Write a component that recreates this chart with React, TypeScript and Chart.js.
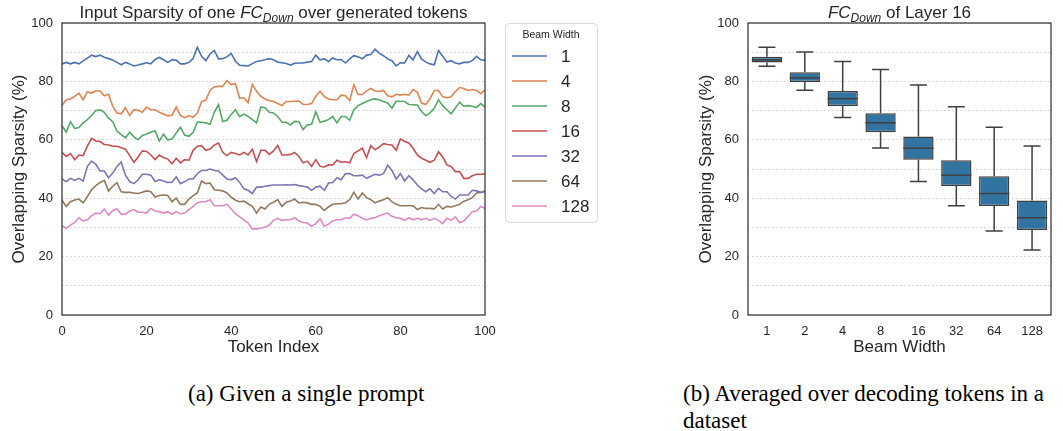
import React, { useEffect, useRef } from 'react';
import { Chart, registerables } from 'chart.js';

Chart.register(...registerables);

const FONT = '"Liberation Sans", Arial, sans-serif';
const TEXT = '#262626';
Chart.defaults.font.family = FONT;
Chart.defaults.color = TEXT;

// ---------- Left chart data ----------
const tokenIndex: number[] = Array.from({ length: 101 }, (_, i) => i);
const seriesLabels = ['1', '4', '8', '16', '32', '64', '128'];
const seriesColors = ['#4C72B0', '#DD8452', '#55A868', '#C44E52', '#8172B3', '#937860', '#DA8BC3'];

const beam1 = [
  86, 86.5, 86, 86.5, 86, 87, 88, 89, 88.5, 89,
  88.3, 87.8, 87.3, 86.5, 85.7, 86.5, 86, 85.3, 85.6, 86,
  86.4, 86, 87.5, 88.2, 87.4, 86.5, 87.4, 87.3, 86, 86,
  86.5, 87.8, 91.7, 88.6, 87.1, 89.4, 90.6, 87.7, 87.8, 88.4,
  89.6, 86.9, 85.5, 85.4, 85.3, 86.1, 86.8, 87.1, 87.4, 87.8,
  87.4, 86.6, 86.4, 86.1, 85.6, 86.2, 86.3, 86.3, 86.6, 86.8,
  89, 87.4, 87.7, 86.8, 88, 87.4, 87.5, 86.3, 87.7, 88.8,
  88.4, 87.7, 89, 89.2, 91, 89.7, 88.8, 87.7, 87.1, 85.3,
  86.4, 86.3, 88.9, 87.4, 90.2, 87.7, 86.6, 86, 85.7, 90.6,
  88.6, 86.6, 87.1, 86.3, 86, 86.5, 86.5, 87.1, 88.6, 87.4,
  87.2,
];
const beam4 = [
  71.7, 73.7, 74, 74.9, 76, 73.7, 76.5, 76, 76.7, 76.7,
  75.1, 75.6, 71.5, 69.2, 68.9, 71, 68.3, 70.3, 70.1, 69.4,
  71.2, 70.3, 70.3, 69.4, 68.8, 68.2, 68.4, 71.2, 68.3, 67.6,
  68.3, 67.7, 69.2, 73.1, 73.6, 76.9, 78.1, 78.3, 78.3, 80.3,
  78.9, 79.2, 74.2, 74.4, 72.7, 79, 76.6, 74.9, 74, 73.4,
  73.1, 72.4, 71.7, 73.1, 73.1, 73.2, 73.3, 72.1, 72.1, 72.4,
  74.9, 76.6, 74.8, 74, 73.7, 73.7, 75.3, 75.1, 73.4, 78.8,
  75.5, 75.5, 76.7, 77.6, 76.7, 76.6, 76.9, 75.1, 74.7, 75.6,
  75.3, 75.6, 75.3, 77.2, 76.3, 72.6, 72.1, 74, 76.9, 76.9,
  74.7, 74.4, 74.7, 76.5, 77.9, 77.6, 76.9, 77.2, 76.9, 75.8,
  77.1,
];
const beam8 = [
  64.8, 62.6, 66.2, 63.9, 64.2, 65.8, 66.9, 68.3, 70, 70.3,
  69.4, 67.4, 66.2, 63, 61.8, 60.7, 62.6, 61, 60, 61.5,
  62, 62.6, 63.1, 59.6, 61.9, 60, 60.3, 62.3, 64.3, 61.6,
  61.2, 62.6, 66.1, 66, 65.8, 65.3, 69.4, 72, 66.3, 66.7,
  68.7, 70.3, 67.9, 68.8, 68, 66.9, 65.8, 71.2, 71, 69.4,
  69.2, 68, 66, 66, 65.1, 66.3, 66.2, 63.5, 65.1, 65.3,
  69.6, 66, 66.4, 66.9, 68, 65.8, 68, 68, 66.7, 70.3,
  71.7, 72.4, 73.1, 73.7, 74, 73.7, 73.1, 72.6, 70.8, 73.2,
  73.2, 73.1, 72.1, 72, 71.9, 69.7, 68.3, 69.2, 70.8, 73.7,
  71.7, 70.3, 68.9, 70.9, 72.9, 71.5, 71.7, 71.5, 71, 72.4,
  71.2,
];
const beam16 = [
  55.7, 54.3, 55.3, 53.2, 54.8, 54.6, 57.8, 60.5, 59.6, 59.4,
  58.4, 58.2, 57.8, 57.8, 57.3, 56.8, 54.6, 52.3, 54.1, 56.2,
  56, 54.8, 53.2, 54.8, 53.9, 53.4, 51.8, 53.7, 52.1, 53.2,
  53, 56.4, 57.8, 58, 56.4, 56.8, 58.2, 58.9, 55.7, 54.6,
  55.7, 55.3, 54.8, 55.7, 54.8, 56.8, 52.5, 56.4, 56.4, 55,
  56.2, 58.1, 54.8, 54.8, 55, 55.7, 54.3, 52.1, 52.7, 50.9,
  53.2, 50.9, 50.7, 51.4, 51.4, 53, 52.3, 52.5, 52.1, 55.3,
  56.2, 57.1, 53.9, 58, 56.6, 57.5, 58.7, 58.4, 58.2, 56.4,
  60.3, 59.4, 58.9, 57.1, 54.8, 53.7, 53, 52.3, 53, 55.9,
  54.1, 51.4, 50.9, 49.1, 49.1, 46.8, 46.8, 47.7, 48.2, 48.2,
  48.4,
];
const beam32 = [
  46.6, 45.7, 46.8, 46.1, 46.8, 45.9, 50.9, 52.7, 51.6, 49.3,
  49.3, 47, 48.6, 50.9, 52.4, 47.9, 45.7, 45, 46.3, 48.2,
  48.2, 47.9, 45.7, 46.3, 45.9, 45.4, 45.5, 47.3, 45, 45.7,
  46.6, 46.6, 48.4, 49.5, 49.5, 50, 49.5, 49.3, 47.9, 46.6,
  46.3, 47, 45.4, 43.2, 42.7, 41.6, 43.8, 43.8, 44.1, 44.3,
  44.5, 44.5, 44.5, 44.6, 44.5, 44.7, 44.3, 44.1, 43.8, 42.7,
  43.8, 44.1, 42.7, 45.2, 45.4, 47, 46.3, 48.4, 48.4, 47.7,
  47.7, 47.9, 46.8, 47.5, 48.2, 47.9, 48.4, 51.3, 49.5, 46.6,
  48.4, 45.9, 47.7, 46.3, 44.5, 43.2, 42.2, 43.2, 41.6, 43.4,
  42.2, 42.2, 40.6, 39.7, 41.1, 41.1, 41.1, 42.7, 42.5, 42,
  42.2,
];
const beam64 = [
  39.3, 37.2, 38.8, 39.4, 39.7, 38.4, 40.6, 42.9, 44.3, 45.4,
  46.1, 42.5, 44.1, 45.3, 42.2, 42, 42, 41.8, 41.6, 42,
  42.5, 42.2, 40.4, 40.9, 41.1, 40.9, 38.8, 40, 37.9, 37.9,
  39.7, 40.9, 41.8, 45.9, 45, 45.2, 42.9, 42.7, 42.5, 41.8,
  40.4, 39.3, 38.8, 39, 38.1, 37.2, 34.9, 37, 36.3, 37.9,
  38.6, 39.5, 37.2, 38.6, 39, 39.7, 38.4, 38.6, 38.4, 37.9,
  37.9, 37.2, 35.8, 37, 37.9, 38.1, 38.1, 38.4, 39.5, 42,
  39.7, 41.8, 40.2, 39.5, 38.4, 39, 39.5, 40.2, 38.8, 37.9,
  37.4, 37.4, 37.4, 37.4, 36.1, 36.8, 36.5, 36.5, 36.3, 37.9,
  36.3, 37.2, 37, 37.4, 37.9, 39, 39.5, 40.2, 41.8, 42,
  42.5,
];
const beam128 = [
  30.6, 29.7, 30.8, 31.7, 33.3, 32.2, 32.6, 34, 34.9, 34.7,
  36.3, 34.2, 35.8, 36.4, 34.5, 34.5, 35.6, 36.1, 35.2, 35.2,
  34.9, 36.5, 35.6, 35.4, 34.9, 35.4, 34.5, 35.4, 34.7, 34.9,
  36.1, 37.2, 38.4, 38.8, 38.8, 39.5, 37.4, 37.4, 37.4, 37.9,
  36.3, 34.7, 33.6, 32.6, 31.5, 29.5, 29.5, 29.7, 30.1, 30.8,
  32.4, 33.1, 32.4, 32.6, 32.6, 33.3, 32.2, 31.7, 31.5, 30.4,
  31.3, 32.9, 30.4, 31.1, 32.2, 32.6, 32.6, 33.3, 33.1, 34.5,
  34, 33.1, 32.6, 33.1, 33.3, 34, 34.5, 34.9, 33.8, 33.3,
  33.1, 32.4, 33.3, 32.6, 33.1, 32.6, 33.1, 32.4, 33.1, 32.4,
  31.3, 33.1, 32.4, 33.6, 31.7, 32.2, 33.8, 35.4, 35.6, 37.2,
  36.5,
];
const seriesValues = [beam1, beam4, beam8, beam16, beam32, beam64, beam128];

// ---------- Right chart data ----------
const beamWidths = ['1', '2', '4', '8', '16', '32', '64', '128'];
const whiskerLow = [85.2, 77, 67.6, 57.2, 45.7, 37.4, 28.8, 22.3];
const q1 = [86.5, 79.8, 71.6, 62.6, 53.2, 44.2, 37.3, 29.1];
const median = [87.4, 81.2, 74.1, 65.8, 57.1, 47.9, 41.6, 33.3];
const q3 = [88.4, 83.1, 76.7, 69.1, 61.1, 53, 47.5, 39.2];
const whiskerHigh = [91.7, 90.1, 86.8, 84.1, 78.8, 71.3, 64.3, 57.9];

const yTicks = [0, 20, 40, 60, 80, 100];

// ---------- plugins ----------
const framePlugin = {
  id: 'frame',
  afterDatasetsDraw(chart: any) {
    const { ctx, chartArea: a } = chart;
    ctx.save();
    ctx.strokeStyle = '#333333';
    ctx.lineWidth = 1.25;
    ctx.strokeRect(a.left, a.top, a.right - a.left, a.bottom - a.top);
    ctx.restore();
  },
};

type Part = { text: string; italic?: boolean; sub?: boolean };
const makeTitlePlugin = (parts: Part[]) => ({
  id: 'richTitle',
  afterDraw(chart: any) {
    const { ctx, chartArea: a } = chart;
    ctx.save();
    const fontOf = (p: Part) => `${p.italic ? 'italic ' : ''}${p.sub ? 12 : 17}px ${FONT}`;
    const widths = parts.map((p) => {
      ctx.font = fontOf(p);
      return ctx.measureText(p.text).width;
    });
    const total = widths.reduce((s, w) => s + w, 0);
    let x = (a.left + a.right) / 2 - total / 2;
    ctx.fillStyle = TEXT;
    ctx.textAlign = 'left';
    ctx.textBaseline = 'alphabetic';
    parts.forEach((p, i) => {
      ctx.font = fontOf(p);
      ctx.fillText(p.text, x, 17.5 + (p.sub ? 4 : 0));
      x += widths[i];
    });
    ctx.restore();
  },
});

const legendPlugin = {
  id: 'legendBox',
  afterDraw(chart: any) {
    const { ctx, chartArea: a } = chart;
    const left = a.right + 20;
    const top = a.top;
    const w = 92;
    const h = 199;
    ctx.save();
    ctx.beginPath();
    (ctx as any).roundRect(left + 0.5, top + 0.5, w, h, 4);
    ctx.fillStyle = '#ffffff';
    ctx.fill();
    ctx.strokeStyle = '#d9d9d9';
    ctx.lineWidth = 1;
    ctx.stroke();
    ctx.fillStyle = TEXT;
    ctx.font = `10.5px ${FONT}`;
    ctx.textAlign = 'center';
    ctx.textBaseline = 'middle';
    ctx.fillText('Beam Width', left + w / 2, top + 12);
    chart.data.datasets.forEach((ds: any, i: number) => {
      const y = top + 33 + i * 25;
      ctx.beginPath();
      ctx.strokeStyle = ds.borderColor;
      ctx.lineWidth = 1.6;
      ctx.moveTo(left + 7, y);
      ctx.lineTo(left + 42, y);
      ctx.stroke();
      ctx.fillStyle = TEXT;
      ctx.font = `17px ${FONT}`;
      ctx.textAlign = 'left';
      ctx.fillText(ds.label, left + 56, y + 1);
    });
    ctx.restore();
  },
};

const boxPlugin = {
  id: 'boxWhiskers',
  beforeDatasetsDraw(chart: any) {
    const { ctx } = chart;
    const ys = chart.scales.y;
    const meta = chart.getDatasetMeta(0);
    ctx.save();
    ctx.strokeStyle = '#3f3f3f';
    ctx.lineWidth = 1.5;
    meta.data.forEach((bar: any, i: number) => {
      const { x, width } = bar.getProps(['x', 'width'], true);
      const cap = width * 0.28;
      const yHi = ys.getPixelForValue(whiskerHigh[i]);
      const yLo = ys.getPixelForValue(whiskerLow[i]);
      const yQ1 = ys.getPixelForValue(q1[i]);
      const yQ3 = ys.getPixelForValue(q3[i]);
      ctx.beginPath();
      ctx.moveTo(x, yQ3);
      ctx.lineTo(x, yHi);
      ctx.moveTo(x - cap, yHi);
      ctx.lineTo(x + cap, yHi);
      ctx.moveTo(x, yQ1);
      ctx.lineTo(x, yLo);
      ctx.moveTo(x - cap, yLo);
      ctx.lineTo(x + cap, yLo);
      ctx.stroke();
    });
    ctx.restore();
  },
  afterDatasetsDraw(chart: any) {
    const { ctx } = chart;
    const ys = chart.scales.y;
    const meta = chart.getDatasetMeta(0);
    ctx.save();
    ctx.strokeStyle = '#3f3f3f';
    ctx.lineWidth = 1.5;
    meta.data.forEach((bar: any, i: number) => {
      const { x, width } = bar.getProps(['x', 'width'], true);
      const y = ys.getPixelForValue(median[i]);
      ctx.beginPath();
      ctx.moveTo(x - width / 2, y);
      ctx.lineTo(x + width / 2, y);
      ctx.stroke();
    });
    ctx.restore();
  },
};

const yScale = (titlePad: number, width: number) => ({
  min: 0,
  max: 100,
  ticks: {
    stepSize: 10,
    padding: 9,
    font: { size: 13 },
    color: TEXT,
    autoSkip: false,
    callback: (v: any) => (yTicks.includes(v) ? String(v) : ''),
  },
  grid: { color: '#cccccc', lineWidth: 0.9, drawTicks: false },
  border: { display: false, dash: [1.5, 2.5] },
  title: {
    display: true,
    text: 'Overlapping Sparsity (%)',
    font: { size: 17 },
    color: TEXT,
    padding: { top: titlePad, bottom: 0 },
  },
  afterFit: (s: any) => {
    s.width = width;
  },
});

const xTitle = (text: string) => ({
  display: true,
  text,
  font: { size: 17 },
  color: TEXT,
  padding: { top: 0, bottom: 2 },
});

const LineChart = () => {
  const ref = useRef<HTMLCanvasElement>(null);
  useEffect(() => {
    const chart = new Chart(ref.current as HTMLCanvasElement, {
      type: 'line',
      data: {
        labels: tokenIndex,
        datasets: seriesValues.map((vals, i) => ({
          label: seriesLabels[i],
          data: vals,
          borderColor: seriesColors[i],
          backgroundColor: seriesColors[i],
          borderWidth: 1.6,
          pointRadius: 0,
          tension: 0,
          fill: false,
        })),
      },
      options: {
        animation: false,
        responsive: true,
        maintainAspectRatio: false,
        layout: { padding: { left: 0, right: 135, top: 23, bottom: 0 } },
        plugins: { legend: { display: false }, tooltip: { enabled: false }, title: { display: false } },
        scales: {
          x: {
            type: 'linear',
            min: 0,
            max: 100,
            ticks: { stepSize: 20, padding: 1, font: { size: 13 }, color: TEXT },
            grid: { display: false },
            border: { display: false },
            title: xTitle('Token Index'),
            afterFit: (s: any) => {
              s.height = 45;
            },
          },
          y: yScale(8.8, 62) as any,
        },
      },
      plugins: [
        framePlugin,
        legendPlugin,
        makeTitlePlugin([
          { text: 'Input Sparsity of one ' },
          { text: 'FC', italic: true },
          { text: 'Down', italic: true, sub: true },
          { text: ' over generated tokens' },
        ]),
      ],
    } as any);
    return () => chart.destroy();
  }, []);
  return (
    <div style={{ position: 'absolute', left: 0, top: 0, width: 620, height: 360 }}>
      <canvas ref={ref} />
    </div>
  );
};

const BoxChart = () => {
  const ref = useRef<HTMLCanvasElement>(null);
  useEffect(() => {
    const chart = new Chart(ref.current as HTMLCanvasElement, {
      type: 'bar',
      data: {
        labels: beamWidths,
        datasets: [
          {
            label: 'FC_Down',
            data: beamWidths.map((_, i) => [q1[i], q3[i]]),
            backgroundColor: '#3274a1',
            borderColor: '#3f3f3f',
            borderWidth: 1.5,
            borderSkipped: false,
            barPercentage: 0.8,
            categoryPercentage: 1,
          },
        ],
      },
      options: {
        animation: false,
        responsive: true,
        maintainAspectRatio: false,
        layout: { padding: { left: 0, right: 12, top: 23, bottom: 0 } },
        plugins: { legend: { display: false }, tooltip: { enabled: false }, title: { display: false } },
        scales: {
          x: {
            ticks: { padding: 1, font: { size: 13 }, color: TEXT },
            grid: { display: false },
            border: { display: false },
            title: xTitle('Beam Width'),
            afterFit: (s: any) => {
              s.height = 45;
            },
          },
          y: yScale(15.8, 68) as any,
        },
      },
      plugins: [
        boxPlugin,
        framePlugin,
        makeTitlePlugin([
          { text: 'FC', italic: true },
          { text: 'Down', italic: true, sub: true },
          { text: ' of Layer 16' },
        ]),
      ],
    } as any);
    return () => chart.destroy();
  }, []);
  return (
    <div style={{ position: 'absolute', left: 680, top: 0, width: 383, height: 360 }}>
      <canvas ref={ref} />
    </div>
  );
};

const captionStyle: React.CSSProperties = {
  position: 'absolute',
  top: 380,
  fontFamily: '"Liberation Serif", "Times New Roman", serif',
  fontSize: 23,
  lineHeight: '27px',
  color: '#000',
  whiteSpace: 'nowrap',
};

export default function App() {
  return (
    <div
      style={{
        position: 'absolute',
        left: 0,
        top: 0,
        width: 1063,
        height: 431,
        background: '#fff',
        overflow: 'hidden',
      }}
    >
      <LineChart />
      <BoxChart />
      <div style={{ ...captionStyle, left: 188 }}>(a) Given a single prompt</div>
      <div style={{ ...captionStyle, left: 683 }}>
        (b) Averaged over decoding tokens in a
        <br />
        dataset
      </div>
    </div>
  );
}
